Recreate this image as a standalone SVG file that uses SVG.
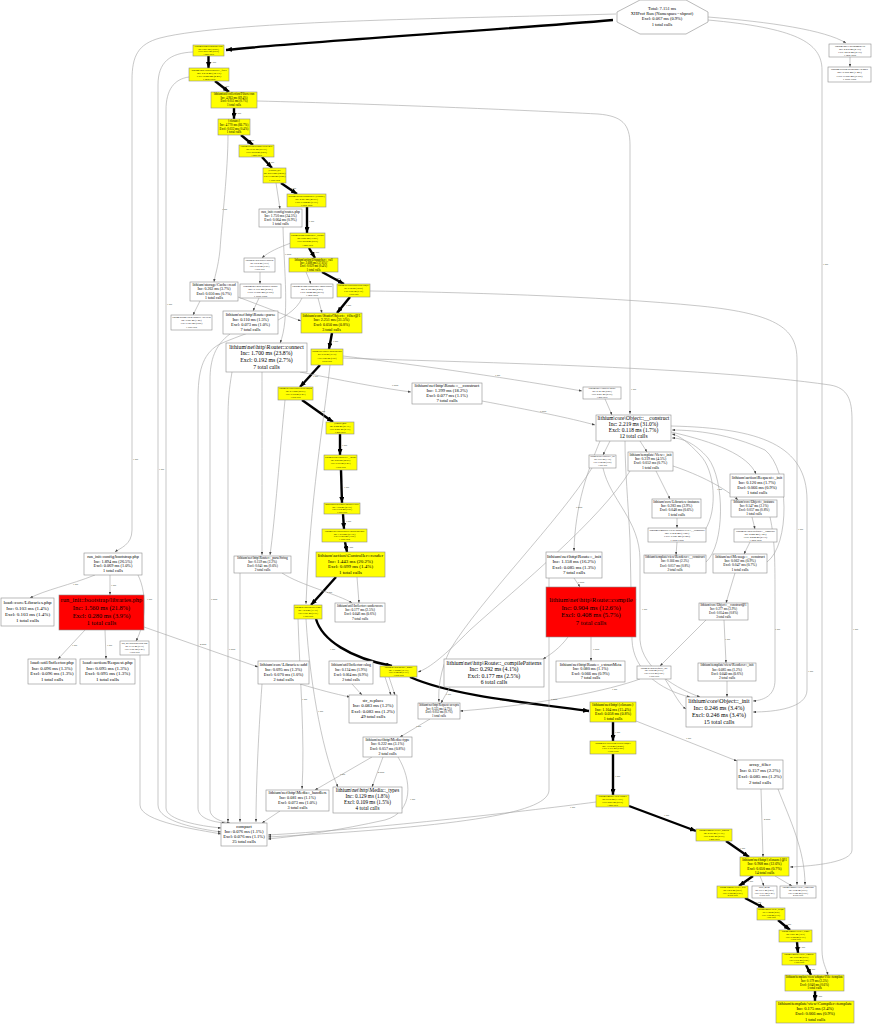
<svg xmlns="http://www.w3.org/2000/svg" width="872" height="1024" viewBox="0 0 872 1024">
<style>
text{font-family:"Liberation Serif","Times New Roman",serif;text-anchor:middle;fill:#000}
.n rect,.n polygon{stroke:#8c8c8c;stroke-width:0.6}
.y{fill:#ffff00}.w{fill:#fff}.r{fill:#ff0000}
.e{fill:none;stroke:#a3a3a3;stroke-width:0.6;marker-end:url(#ag)}
.t{fill:none;stroke:#000;stroke-width:2.4;marker-end:url(#ah)}
.el text{font-size:2.4px;text-anchor:start}
</style>
<defs>
<marker id="ah" markerWidth="6" markerHeight="5" refX="6" refY="2.5" orient="auto" markerUnits="userSpaceOnUse"><path d="M0,0 L6,2.5 L0,5 z" fill="#000"/></marker>
<marker id="ag" markerWidth="3" markerHeight="2.4" refX="3" refY="1.2" orient="auto" markerUnits="userSpaceOnUse"><path d="M0,0 L3,1.2 L0,2.4 z" fill="#444"/></marker>
</defs>
<rect width="872" height="1024" fill="#fff"/>
<g id="connectors">
<path class="t" d="M613,20 C500,30 300,42 226,50"/>
<path class="t" d="M208.5,56 L208.5,68"/>
<path class="t" d="M215,81 L229,92"/>
<path class="t" d="M234,108 L234,119"/>
<path class="t" d="M241,135 L253,145"/>
<path class="t" d="M262,157 L272,168"/>
<path class="t" d="M281,183 L297,194"/>
<path class="t" d="M307,207 L307,233"/>
<path class="t" d="M309,248 L315,258"/>
<path class="t" d="M322,272 L344,284"/>
<path class="t" d="M350,297 L337,313"/>
<path class="t" d="M332,333 L329,349"/>
<path class="t" d="M320,365 L300,387"/>
<path class="t" d="M302,400 L333,422"/>
<path class="t" d="M340,434 L340,455"/>
<path class="t" d="M341,470 L342,503"/>
<path class="t" d="M343,514 L344,529"/>
<path class="t" d="M345,542 L347,552"/>
<path class="t" d="M336,577 L311,605"/>
<path class="t" d="M316,619 C322,640 350,658 392,666"/>
<path class="t" d="M410,677 C450,695 520,702 589,711"/>
<path class="t" d="M613,722 L613,741"/>
<path class="t" d="M613,754 L613,795"/>
<path class="t" d="M629,806 L696,831"/>
<path class="t" d="M726,841 L749,857"/>
<path class="t" d="M753,876 L739,886"/>
<path class="t" d="M745,898 L764,908"/>
<path class="t" d="M778,920 L790,930"/>
<path class="t" d="M797,942 L798,953"/>
<path class="t" d="M806,965 L811,975"/>
<path class="t" d="M815,991 L815,1001"/>

<path class="e" d="M616,14 C480,18 230,20 160,38 C138,44 132,56 132,80 L132,530 C132,545 120,548 115,552"/>
<path class="e" d="M708,17 C770,22 825,30 846,43"/>
<path class="e" d="M708,20 C795,28 822,42 822,70 L822,950 C822,962 826,968 828,975"/>
<path class="e" d="M850,57 L850,67"/>
<path class="e" d="M193,52 C170,53 158,62 158,85 L158,805 C158,822 200,829 221,832"/>
<path class="e" d="M189,77 C174,79 166,90 166,110 L166,808 C166,820 200,826 221,828"/>
<path class="e" d="M228,135 C228,170 222,220 220,250 C218,268 215,275 214,282"/>
<path class="e" d="M257,101 C380,104 520,110 598,114 C622,116 630,124 630,145 L630,414"/>
<path class="e" d="M276,183 L280,209"/>
<path class="e" d="M283,227 C284,270 290,320 280,343"/>
<path class="e" d="M291,243 C280,247 268,252 262,258"/>
<path class="e" d="M260,272 L260,284"/>
<path class="e" d="M259,298 L253,311"/>
<path class="e" d="M306,272 L311,284"/>
<path class="e" d="M200,301 L193,315"/>
<path class="e" d="M238,297 C262,306 285,315 301,321"/>
<path class="e" d="M318,298 L322,313"/>
<path class="e" d="M302,298 C292,322 245,332 218,345 C202,355 198,372 198,400 L198,808 C198,818 212,822 225,823"/>
<path class="e" d="M230,334 C215,345 210,360 210,380 L210,810 C210,818 222,822 230,823"/>
<path class="e" d="M232,372 C229,390 228,400 228,420 L228,822"/>
<path class="e" d="M300,372 C340,380 380,388 411,392"/>
<path class="e" d="M262,372 C262,420 262,500 262,555"/>
<path class="e" d="M343,356 C420,365 520,380 582,391"/>
<path class="e" d="M343,358 C450,362 700,366 830,385 C848,388 852,400 852,420 L852,850 C852,862 815,866 790,867"/>
<path class="e" d="M370,291 C450,292 600,296 700,306 C780,314 797,330 797,360 L797,885"/>
<path class="e" d="M482,401 C530,410 570,418 595,425"/>
<path class="e" d="M605,399 L612,415"/>
<path class="e" d="M600,441 C588,470 575,505 574,551"/>
<path class="e" d="M610,441 L603,455"/>
<path class="e" d="M640,441 L647,452"/>
<path class="e" d="M671,432 C715,442 748,455 756,474"/>
<path class="e" d="M705,530 C718,510 715,470 700,455 C688,442 680,436 672,434"/>
<path class="e" d="M706,562 C725,545 725,480 708,458 C695,443 682,438 672,438"/>
<path class="e" d="M767,562 C790,545 790,470 765,450 C730,434 695,430 672,430"/>
<path class="e" d="M671,426 C760,428 807,445 807,500 L807,690 C807,708 775,712 753,712"/>
<path class="e" d="M770,517 C775,540 775,560 775,600 L775,680 C775,695 765,700 753,701"/>
<path class="e" d="M625,441 C625,470 628,500 630,540 L632,640 C633,670 660,690 690,697"/>
<path class="e" d="M603,468 C610,500 640,520 640,560 L640,640 C642,670 680,690 700,697"/>
<path class="e" d="M727,681 L727,697"/>
<path class="e" d="M724,620 L726,663"/>
<path class="e" d="M706,620 L660,666"/>
<path class="e" d="M735,573 L726,603"/>
<path class="e" d="M677,542 L676,555"/>
<path class="e" d="M656,471 L670,499"/>
<path class="e" d="M677,518 L677,528"/>
<path class="e" d="M752,517 L755,529"/>
<path class="e" d="M750,542 L744,554"/>
<path class="e" d="M673,466 C700,475 725,488 738,500"/>
<path class="e" d="M665,679 C675,695 680,705 686,709"/>
<path class="e" d="M592,468 C560,520 480,600 450,650 C440,670 438,690 439,702"/>
<path class="e" d="M630,471 C600,520 520,585 470,630 C445,655 430,668 418,672"/>
<path class="e" d="M574,578 L580,587"/>
<path class="e" d="M591,637 L591,661"/>
<path class="e" d="M568,637 C560,648 550,655 543,659"/>
<path class="e" d="M549,578 L549,790 C549,812 470,826 268,837"/>
<path class="e" d="M596,802 C520,812 360,830 268,835"/>
<path class="e" d="M450,687 L441,703"/>
<path class="e" d="M430,719 L400,737"/>
<path class="e" d="M372,757 L315,790"/>
<path class="e" d="M383,757 L372,787"/>
<path class="e" d="M398,757 C412,780 414,812 385,820 C340,830 300,836 268,839"/>
<path class="e" d="M280,811 L262,823"/>
<path class="e" d="M352,684 L362,695"/>
<path class="e" d="M300,684 C320,690 335,694 350,697"/>
<path class="e" d="M385,677 L391,695"/>
<path class="e" d="M389,677 L395,695"/>
<path class="e" d="M298,619 C300,680 305,740 302,789"/>
<path class="e" d="M306,619 C310,690 325,760 338,787"/>
<path class="e" d="M282,573 C300,585 340,595 352,603"/>
<path class="e" d="M240,573 L240,822"/>
<path class="e" d="M262,684 C258,740 256,790 256,822"/>
<path class="e" d="M140,655 L140,805 C140,822 200,830 221,834"/>
<path class="e" d="M95,575 C70,585 45,590 30,598"/>
<path class="e" d="M110,575 L110,595"/>
<path class="e" d="M138,575 C148,595 145,625 136,641"/>
<path class="e" d="M85,630 L58,659"/>
<path class="e" d="M105,630 L106,659"/>
<path class="e" d="M144,627 L258,667"/>
<path class="e" d="M285,400 C280,450 275,520 270,555"/>
<path class="e" d="M330,365 C324,420 310,500 306,604"/>
<path class="e" d="M357,577 L359,603"/>
<path class="e" d="M636,721 L737,761"/>
<path class="e" d="M761,789 L763,857"/>
<path class="e" d="M760,876 L764,886"/>
<path class="e" d="M775,876 L792,886"/>
<path class="e" d="M778,789 C790,820 805,850 805,885"/>
<path class="e" d="M640,679 C610,690 540,705 460,711"/>
</g>
<g class="el">
<text x="385" y="38">1 call</text>
<text x="211" y="63">1 call</text>
<text x="224" y="87">1 call</text>
<text x="236" y="114">1 call</text>
<text x="249" y="141">1 call</text>
<text x="269" y="163">1 call</text>
<text x="291" y="189">1 call</text>
<text x="309" y="222">1 call</text>
<text x="314" y="253">1 call</text>
<text x="335" y="279">1 call</text>
<text x="346" y="306">1 call</text>
<text x="333" y="342">1 call</text>
<text x="313" y="377">1 call</text>
<text x="320" y="412">1 call</text>
<text x="342" y="446">1 call</text>
<text x="344" y="488">1 call</text>
<text x="346" y="522">1 call</text>
<text x="348" y="548">1 call</text>
<text x="327" y="593">1 call</text>
<text x="330" y="650">1 call</text>
<text x="500" y="701">1 call</text>
<text x="615" y="733">1 call</text>
<text x="615" y="777">1 call</text>
<text x="664" y="816">1 call</text>
<text x="740" y="849">1 call</text>
<text x="748" y="882">1 call</text>
<text x="756" y="903">1 call</text>
<text x="786" y="925">1 call</text>
<text x="800" y="948">1 call</text>
<text x="810" y="970">1 call</text>
<text x="817" y="997">1 call</text>
<text x="133" y="460">1 call</text>
<text x="222" y="210">1 call</text>
<text x="631" y="390">1 call</text>
<text x="823" y="265">1 call</text>
<text x="853" y="630">1 call</text>
<text x="798" y="530">1 call</text>
<text x="285" y="255">7 calls</text>
<text x="576" y="508">7 calls</text>
<text x="578" y="583">7 calls</text>
<text x="593" y="650">7 calls</text>
<text x="392" y="386">7 calls</text>
<text x="540" y="412">7 calls</text>
<text x="495" y="376">1 call</text>
<text x="159" y="470">1 call</text>
<text x="167" y="305">1 call</text>
<text x="211" y="600">7 calls</text>
<text x="229" y="650">7 calls</text>
<text x="73" y="585">1 call</text>
<text x="111" y="586">1 call</text>
<text x="147" y="600">1 call</text>
<text x="72" y="646">1 call</text>
<text x="107" y="646">1 call</text>
<text x="200" y="645">2 calls</text>
<text x="340" y="775">1 call</text>
<text x="378" y="773">2 calls</text>
<text x="416" y="727">1 call</text>
<text x="446" y="695">1 call</text>
<text x="302" y="700">1 call</text>
<text x="318" y="712">1 call</text>
<text x="686" y="739">1 call</text>
<text x="764" y="820">2 calls</text>
<text x="551" y="700">7 calls</text>
<text x="570" y="808">1 call</text>
<text x="410" y="800">1 call</text>
<text x="631" y="600">1 call</text>
<text x="642" y="610">1 call</text>
<text x="717" y="490">1 call</text>
<text x="775" y="630">1 call</text>
<text x="808" y="672">1 call</text>
<text x="725" y="640">1 call</text>
<text x="612" y="690">1 call</text>
</g>
<g id="nodes">
<g id="root" class="n"><polygon class="w" points="640,0 686,0 708,12 708,22 686,34 640,34 617,22 617,12"/><text x="662" y="10.2" font-size="4.5"><tspan x="662">Total: 7.151 ms</tspan><tspan x="662" dy="5.1">XHProf Run (Namespace=xhprof)</tspan><tspan x="662" dy="5.1">Excl: 0.067 ms (0.9%)</tspan><tspan x="662" dy="5.1">1 total calls</tspan></text></g>
<g id="nA" class="n"><rect class="y" x="193" y="45" width="31" height="11"/><text x="208.5" y="47.1" font-size="2.3"><tspan x="208.5">lithium\action\Dispatcher::run</tspan><tspan x="208.5" dy="2.6">Inc: 5.061 ms (70.8%)</tspan><tspan x="208.5" dy="2.6">Excl: 0.037 ms (0.5%)</tspan><tspan x="208.5" dy="2.6">1 total calls</tspan></text></g>
<g id="nB" class="n"><rect class="y" x="189" y="68" width="40" height="13"/><text x="209" y="70.6" font-size="2.7"><tspan x="209">lithium\core\StaticObject::_filter</tspan><tspan x="209" dy="3">Inc: 5.012 ms (70.1%)</tspan><tspan x="209" dy="3">Excl: 0.028 ms (0.4%)</tspan><tspan x="209" dy="3">1 total calls</tspan></text></g>
<g id="nC" class="n"><rect class="y" x="211" y="92" width="46" height="16"/><text x="234" y="95.3" font-size="3"><tspan x="234">lithium\util\collection\Filters::run</tspan><tspan x="234" dy="3.5">Inc: 4.963 ms (69.4%)</tspan><tspan x="234" dy="3.5">Excl: 0.051 ms (0.7%)</tspan><tspan x="234" dy="3.5">1 total calls</tspan></text></g>
<g id="nD" class="n"><rect class="y" x="218" y="119" width="32" height="16"/><text x="234" y="122.3" font-size="3.2"><tspan x="234">{closure}</tspan><tspan x="234" dy="3.6">Inc: 4.770 ms (66.7%)</tspan><tspan x="234" dy="3.6">Excl: 0.032 ms (0.4%)</tspan><tspan x="234" dy="3.6">1 total calls</tspan></text></g>
<g id="nE" class="n"><rect class="y" x="239" y="145" width="35" height="12"/><text x="256.5" y="147.4" font-size="2.3"><tspan x="256.5">lithium\util\collection\Filters::next</tspan><tspan x="256.5" dy="2.7">Inc: 4.701 ms (65.7%)</tspan><tspan x="256.5" dy="2.7">Excl: 0.030 ms (0.4%)</tspan><tspan x="256.5" dy="2.7">1 total calls</tspan></text></g>
<g id="nF" class="n"><rect class="y" x="263" y="168" width="23" height="15"/><text x="274.5" y="170.8" font-size="2.4"><tspan x="274.5">{closure}@1</tspan><tspan x="274.5" dy="3.3">Inc: 4.615 ms (64.5%)</tspan><tspan x="274.5" dy="3.3">Excl: 0.026 ms (0.4%)</tspan><tspan x="274.5" dy="3.3">1 total calls</tspan></text></g>
<g id="nG" class="n"><rect class="y" x="287" y="194" width="39" height="13"/><text x="306.5" y="196.5" font-size="2.5"><tspan x="306.5">lithium\action\Dispatcher::{closure}</tspan><tspan x="306.5" dy="3">Inc: 2.861 ms (40.0%)</tspan><tspan x="306.5" dy="3">Excl: 0.024 ms (0.3%)</tspan><tspan x="306.5" dy="3">1 total calls</tspan></text></g>
<g id="nH" class="n"><rect class="w" x="259" y="209" width="43" height="18"/><text x="280.5" y="212.6" font-size="3.6"><tspan x="280.5">run_init::config/routes.php</tspan><tspan x="280.5" dy="4.1">Inc: 1.750 ms (24.5%)</tspan><tspan x="280.5" dy="4.1">Excl: 0.064 ms (0.9%)</tspan><tspan x="280.5" dy="4.1">1 total calls</tspan></text></g>
<g id="nI" class="n"><rect class="y" x="290" y="233" width="35" height="15"/><text x="307.5" y="235.7" font-size="2.3"><tspan x="307.5">lithium\action\Dispatcher::_callable</tspan><tspan x="307.5" dy="3.3">Inc: 2.803 ms (39.2%)</tspan><tspan x="307.5" dy="3.3">Excl: 0.034 ms (0.5%)</tspan><tspan x="307.5" dy="3.3">1 total calls</tspan></text></g>
<g id="nJ" class="n"><rect class="y" x="289" y="258" width="49" height="14"/><text x="313.5" y="260.7" font-size="3"><tspan x="313.5">lithium\action\Dispatcher::_call</tspan><tspan x="313.5" dy="3.3">Inc: 2.688 ms (37.6%)</tspan><tspan x="313.5" dy="3.3">Excl: 0.029 ms (0.4%)</tspan><tspan x="313.5" dy="3.3">1 total calls</tspan></text></g>
<g id="nK" class="n"><rect class="w" x="244" y="258" width="31" height="14"/><text x="259.5" y="260.7" font-size="2.2"><tspan x="259.5">lithium\net\http\Router::process</tspan><tspan x="259.5" dy="3">Inc: 0.214 ms (3.0%)</tspan><tspan x="259.5" dy="3">Excl: 0.038 ms (0.5%)</tspan><tspan x="259.5" dy="3">1 total calls</tspan></text></g>
<g id="nL" class="n"><rect class="y" x="337" y="284" width="33" height="13"/><text x="353.5" y="286.3" font-size="2.1"><tspan x="353.5">lithium\util\collection\Filters::run@1</tspan><tspan x="353.5" dy="2.9">Inc: 2.320 ms (32.4%)</tspan><tspan x="353.5" dy="2.9">Excl: 0.047 ms (0.7%)</tspan><tspan x="353.5" dy="2.9">1 total calls</tspan></text></g>
<g id="nM" class="n"><rect class="w" x="291" y="284" width="42" height="14"/><text x="312" y="286.8" font-size="2.6"><tspan x="312">lithium\action\Dispatcher::applyRules</tspan><tspan x="312" dy="3.1">Inc: 0.156 ms (2.2%)</tspan><tspan x="312" dy="3.1">Excl: 0.042 ms (0.6%)</tspan><tspan x="312" dy="3.1">1 total calls</tspan></text></g>
<g id="nN" class="n"><rect class="w" x="240" y="284" width="41" height="14"/><text x="260.5" y="286.9" font-size="2.9"><tspan x="260.5">lithium\net\http\Router::parse</tspan><tspan x="260.5" dy="3.2">Inc: 0.176 ms (2.5%)</tspan><tspan x="260.5" dy="3.2">Excl: 0.066 ms (0.9%)</tspan><tspan x="260.5" dy="3.2">1 total calls</tspan></text></g>
<g id="nO" class="n"><rect class="w" x="190" y="282" width="48" height="19"/><text x="214" y="285.7" font-size="3.9"><tspan x="214">lithium\storage\Cache::read</tspan><tspan x="214" dy="4.4">Inc: 0.263 ms (3.7%)</tspan><tspan x="214" dy="4.4">Excl: 0.050 ms (0.7%)</tspan><tspan x="214" dy="4.4">1 total calls</tspan></text></g>
<g id="nP" class="n"><rect class="w" x="171" y="315" width="41" height="15"/><text x="191.5" y="318.2" font-size="2.4"><tspan x="191.5">lithium\storage\cache\adapter\Apc::read</tspan><tspan x="191.5" dy="3.1">Inc: 0.087 ms (1.2%)</tspan><tspan x="191.5" dy="3.1">Excl: 0.057 ms (0.8%)</tspan><tspan x="191.5" dy="3.1">1 total calls</tspan></text></g>
<g id="nQ" class="n"><rect class="w" x="223" y="311" width="55" height="23"/><text x="250.5" y="315.5" font-size="4.3"><tspan x="250.5">lithium\net\http\Route::parse</tspan><tspan x="250.5" dy="5.2">Inc: 0.110 ms (1.5%)</tspan><tspan x="250.5" dy="5.2">Excl: 0.073 ms (1.0%)</tspan><tspan x="250.5" dy="5.2">7 total calls</tspan></text></g>
<g id="nR" class="n"><rect class="y" x="301" y="313" width="61" height="20"/><text x="331.5" y="316.7" font-size="4"><tspan x="331.5">lithium\core\StaticObject::_filter@1</tspan><tspan x="331.5" dy="4.7">Inc: 2.251 ms (31.5%)</tspan><tspan x="331.5" dy="4.7">Excl: 0.050 ms (0.8%)</tspan><tspan x="331.5" dy="4.7">3 total calls</tspan></text></g>
<g id="nS" class="n"><rect class="w" x="226" y="343" width="81" height="29"/><text x="266.5" y="348.6" font-size="5.8"><tspan x="266.5">lithium\net\http\Router::connect</tspan><tspan x="266.5" dy="6.7">Inc: 1.700 ms (23.8%)</tspan><tspan x="266.5" dy="6.7">Excl: 0.192 ms (2.7%)</tspan><tspan x="266.5" dy="6.7">7 total calls</tspan></text></g>
<g id="nT" class="n"><rect class="y" x="311" y="349" width="32" height="16"/><text x="327" y="351.6" font-size="2.1"><tspan x="327">lithium\core\Object::invokeMethod</tspan><tspan x="327" dy="3.5">Inc: 2.166 ms (30.3%)</tspan><tspan x="327" dy="3.5">Excl: 0.040 ms (0.6%)</tspan><tspan x="327" dy="3.5">2 total calls</tspan></text></g>
<g id="nU" class="n"><rect class="y" x="278" y="387" width="35" height="13"/><text x="295.5" y="389.4" font-size="2.2"><tspan x="295.5">lithium\util\collection\Filters::run@2</tspan><tspan x="295.5" dy="2.9">Inc: 2.112 ms (29.5%)</tspan><tspan x="295.5" dy="2.9">Excl: 0.032 ms (0.4%)</tspan><tspan x="295.5" dy="2.9">1 total calls</tspan></text></g>
<g id="nV" class="n"><rect class="w" x="412" y="383" width="70" height="21"/><text x="447" y="387.3" font-size="4.6"><tspan x="447">lithium\net\http\Route::__construct</tspan><tspan x="447" dy="4.9">Inc: 1.299 ms (18.2%)</tspan><tspan x="447" dy="4.9">Excl: 0.077 ms (1.1%)</tspan><tspan x="447" dy="4.9">7 total calls</tspan></text></g>
<g id="nW" class="n"><rect class="w" x="583" y="387" width="38" height="12"/><text x="602" y="389.4" font-size="2.3"><tspan x="602">lithium\core\Libraries::locate</tspan><tspan x="602" dy="2.7">Inc: 0.143 ms (2.0%)</tspan><tspan x="602" dy="2.7">Excl: 0.061 ms (0.9%)</tspan><tspan x="602" dy="2.7">1 total calls</tspan></text></g>
<g id="nX" class="n"><rect class="y" x="326" y="422" width="28" height="12"/><text x="340" y="424.4" font-size="2.3"><tspan x="340">{closure}@2</tspan><tspan x="340" dy="2.7">Inc: 2.080 ms (29.1%)</tspan><tspan x="340" dy="2.7">Excl: 0.021 ms (0.3%)</tspan><tspan x="340" dy="2.7">1 total calls</tspan></text></g>
<g id="nY" class="n"><rect class="y" x="324" y="455" width="33" height="15"/><text x="340.5" y="457.6" font-size="2.2"><tspan x="340.5">lithium\action\Controller::__invoke</tspan><tspan x="340.5" dy="3.3">Inc: 2.059 ms (28.8%)</tspan><tspan x="340.5" dy="3.3">Excl: 0.030 ms (0.4%)</tspan><tspan x="340.5" dy="3.3">1 total calls</tspan></text></g>
<g id="nZ" class="n"><rect class="w" x="596" y="415" width="75" height="26"/><text x="633.5" y="420.1" font-size="5.5"><tspan x="633.5">lithium\core\Object::__construct</tspan><tspan x="633.5" dy="6.1">Inc: 2.219 ms (31.0%)</tspan><tspan x="633.5" dy="6.1">Excl: 0.118 ms (1.7%)</tspan><tspan x="633.5" dy="6.1">12 total calls</tspan></text></g>
<g id="nAA" class="n"><rect class="y" x="324" y="503" width="36" height="11"/><text x="342" y="505" font-size="2.2"><tspan x="342">app\controllers\PagesController::view</tspan><tspan x="342" dy="2.6">Inc: 1.998 ms (27.9%)</tspan><tspan x="342" dy="2.6">Excl: 0.014 ms (0.2%)</tspan><tspan x="342" dy="2.6">1 total calls</tspan></text></g>
<g id="nAB" class="n"><rect class="y" x="322" y="529" width="45" height="13"/><text x="344.5" y="531.6" font-size="2.4"><tspan x="344.5">lithium\core\StaticObject::invokeMethod</tspan><tspan x="344.5" dy="2.9">Inc: 1.512 ms (21.1%)</tspan><tspan x="344.5" dy="2.9">Excl: 0.069 ms (1.0%)</tspan><tspan x="344.5" dy="2.9">1 total calls</tspan></text></g>
<g id="nAC" class="n"><rect class="y" x="316" y="552" width="69" height="25"/><text x="350.5" y="557.2" font-size="5"><tspan x="350.5">lithium\action\Controller::render</tspan><tspan x="350.5" dy="5.6">Inc: 1.443 ms (20.2%)</tspan><tspan x="350.5" dy="5.6">Excl: 0.099 ms (1.4%)</tspan><tspan x="350.5" dy="5.6">1 total calls</tspan></text></g>
<g id="nAD" class="n"><rect class="w" x="234" y="556" width="57" height="17"/><text x="262.5" y="559.4" font-size="3.4"><tspan x="262.5">lithium\net\http\Router::_parseString</tspan><tspan x="262.5" dy="3.9">Inc: 0.159 ms (2.2%)</tspan><tspan x="262.5" dy="3.9">Excl: 0.041 ms (0.6%)</tspan><tspan x="262.5" dy="3.9">2 total calls</tspan></text></g>
<g id="nAE" class="n"><rect class="y" x="294" y="605" width="28" height="14"/><text x="308" y="607.5" font-size="2.2"><tspan x="308">lithium\net\http\Media::render</tspan><tspan x="308" dy="3.1">Inc: 1.238 ms (17.3%)</tspan><tspan x="308" dy="3.1">Excl: 0.067 ms (0.9%)</tspan><tspan x="308" dy="3.1">1 total calls</tspan></text></g>
<g id="nAF" class="n"><rect class="w" x="335" y="603" width="50" height="19"/><text x="360" y="606.6" font-size="3.5"><tspan x="360">lithium\util\Inflector::underscore</tspan><tspan x="360" dy="4.3">Inc: 0.177 ms (2.5%)</tspan><tspan x="360" dy="4.3">Excl: 0.046 ms (0.6%)</tspan><tspan x="360" dy="4.3">7 total calls</tspan></text></g>
<g id="nAG" class="n"><rect class="w" x="258" y="661" width="51" height="23"/><text x="283.5" y="665.9" font-size="4.4"><tspan x="283.5">lithium\core\Libraries::add</tspan><tspan x="283.5" dy="5">Inc: 0.095 ms (1.3%)</tspan><tspan x="283.5" dy="5">Excl: 0.070 ms (1.0%)</tspan><tspan x="283.5" dy="5">2 total calls</tspan></text></g>
<g id="nAH" class="n"><rect class="w" x="329" y="661" width="44" height="23"/><text x="351" y="665.5" font-size="3.8"><tspan x="351">lithium\util\Inflector::slug</tspan><tspan x="351" dy="5">Inc: 0.134 ms (1.9%)</tspan><tspan x="351" dy="5">Excl: 0.064 ms (0.9%)</tspan><tspan x="351" dy="5">2 total calls</tspan></text></g>
<g id="nAI" class="n"><rect class="y" x="380" y="666" width="37" height="11"/><text x="398.5" y="668" font-size="2.2"><tspan x="398.5">lithium\net\http\Media::_handle</tspan><tspan x="398.5" dy="2.6">Inc: 1.152 ms (16.1%)</tspan><tspan x="398.5" dy="2.6">Excl: 0.048 ms (0.7%)</tspan><tspan x="398.5" dy="2.6">1 total calls</tspan></text></g>
<g id="nAJ" class="n"><rect class="w" x="444" y="659" width="100" height="28"/><text x="494" y="664.9" font-size="5.8"><tspan x="494">lithium\net\http\Route::_compilePatterns</tspan><tspan x="494" dy="6.3">Inc: 0.292 ms (4.1%)</tspan><tspan x="494" dy="6.3">Excl: 0.177 ms (2.5%)</tspan><tspan x="494" dy="6.3">6 total calls</tspan></text></g>
<g id="nCfg" class="n"><rect class="w" x="84" y="553" width="58" height="22"/><text x="113" y="557.6" font-size="4.3"><tspan x="113">run_init::config/bootstrap.php</tspan><tspan x="113" dy="4.9">Inc: 1.894 ms (26.5%)</tspan><tspan x="113" dy="4.9">Excl: 0.069 ms (1.0%)</tspan><tspan x="113" dy="4.9">1 total calls</tspan></text></g>
<g id="nRed1" class="n"><rect class="r" x="59" y="595" width="85" height="35"/><text x="101.5" y="602.3" font-size="6.4"><tspan x="101.5">run_init::bootstrap/libraries.php</tspan><tspan x="101.5" dy="7.6">Inc: 1.560 ms (21.8%)</tspan><tspan x="101.5" dy="7.6">Excl: 0.280 ms (3.9%)</tspan><tspan x="101.5" dy="7.6">1 total calls</tspan></text></g>
<g id="nLoadLib" class="n"><rect class="w" x="1" y="598" width="53" height="28"/><text x="27.5" y="603.9" font-size="5"><tspan x="27.5">load::core/Libraries.php</tspan><tspan x="27.5" dy="6">Inc: 0.103 ms (1.4%)</tspan><tspan x="27.5" dy="6">Excl: 0.103 ms (1.4%)</tspan><tspan x="27.5" dy="6">1 total calls</tspan></text></g>
<g id="nLoadInf" class="n"><rect class="w" x="28" y="659" width="48" height="25"/><text x="52" y="664.4" font-size="4.8"><tspan x="52">load::util/Inflector.php</tspan><tspan x="52" dy="5.5">Inc: 0.096 ms (1.3%)</tspan><tspan x="52" dy="5.5">Excl: 0.096 ms (1.3%)</tspan><tspan x="52" dy="5.5">1 total calls</tspan></text></g>
<g id="nLoadReq" class="n"><rect class="w" x="80" y="659" width="55" height="25"/><text x="107.5" y="664.4" font-size="5"><tspan x="107.5">load::action/Request.php</tspan><tspan x="107.5" dy="5.5">Inc: 0.095 ms (1.3%)</tspan><tspan x="107.5" dy="5.5">Excl: 0.095 ms (1.3%)</tspan><tspan x="107.5" dy="5.5">1 total calls</tspan></text></g>
<g id="nCache" class="n"><rect class="w" x="120" y="641" width="29" height="14"/><text x="134.5" y="643.7" font-size="2.2"><tspan x="134.5">run_init::bootstrap/cache.php</tspan><tspan x="134.5" dy="3">Inc: 0.379 ms (5.3%)</tspan><tspan x="134.5" dy="3">Excl: 0.027 ms (0.4%)</tspan><tspan x="134.5" dy="3">1 total calls</tspan></text></g>
<g id="nRed2" class="n"><rect class="r" x="546" y="587" width="90" height="50"/><text x="591" y="602.1" font-size="6.6"><tspan x="591">lithium\net\http\Route::compile</tspan><tspan x="591" dy="7.5">Inc: 0.904 ms (12.6%)</tspan><tspan x="591" dy="7.5">Excl: 0.408 ms (5.7%)</tspan><tspan x="591" dy="7.5">7 total calls</tspan></text></g>
<g id="nRouteInit" class="n"><rect class="w" x="546" y="552" width="56" height="26"/><text x="574" y="557.7" font-size="4.8"><tspan x="574">lithium\net\http\Route::_init</tspan><tspan x="574" dy="5.5">Inc: 1.158 ms (16.2%)</tspan><tspan x="574" dy="5.5">Excl: 0.085 ms (1.3%)</tspan><tspan x="574" dy="5.5">7 total calls</tspan></text></g>
<g id="nExtract" class="n"><rect class="w" x="556" y="661" width="69" height="21"/><text x="590.5" y="665.6" font-size="4.2"><tspan x="590.5">lithium\net\http\Route::_extractMeta</tspan><tspan x="590.5" dy="4.6">Inc: 0.080 ms (1.1%)</tspan><tspan x="590.5" dy="4.6">Excl: 0.066 ms (0.9%)</tspan><tspan x="590.5" dy="4.6">7 total calls</tspan></text></g>
<g id="nReqSmall" class="n"><rect class="w" x="637" y="666" width="34" height="13"/><text x="654" y="668.6" font-size="2.2"><tspan x="654">lithium\net\http\Request::_init</tspan><tspan x="654" dy="2.8">Inc: 0.068 ms (0.9%)</tspan><tspan x="654" dy="2.8">Excl: 0.030 ms (0.4%)</tspan><tspan x="654" dy="2.8">1 total calls</tspan></text></g>
<g id="nObjInit" class="n"><rect class="w" x="686" y="697" width="66" height="30"/><text x="719" y="702.7" font-size="6"><tspan x="719">lithium\core\Object::_init</tspan><tspan x="719" dy="7">Inc: 0.246 ms (3.4%)</tspan><tspan x="719" dy="7">Excl: 0.246 ms (3.4%)</tspan><tspan x="719" dy="7">15 total calls</tspan></text></g>
<g id="nClosureY" class="n"><rect class="y" x="590" y="702" width="46" height="20"/><text x="613" y="706.3" font-size="4"><tspan x="613">lithium\net\http\{closure}</tspan><tspan x="613" dy="4.4">Inc: 1.104 ms (15.4%)</tspan><tspan x="613" dy="4.4">Excl: 0.058 ms (0.8%)</tspan><tspan x="613" dy="4.4">1 total calls</tspan></text></g>
<g id="nYS" class="n"><rect class="y" x="590" y="741" width="46" height="13"/><text x="613" y="743.6" font-size="2.4"><tspan x="613">lithium\util\collection\Filters::run@3</tspan><tspan x="613" dy="2.9">Inc: 1.015 ms (14.2%)</tspan><tspan x="613" dy="2.9">Excl: 0.037 ms (0.5%)</tspan><tspan x="613" dy="2.9">1 total calls</tspan></text></g>
<g id="nArr" class="n"><rect class="w" x="737" y="760" width="46" height="29"/><text x="760" y="765.8" font-size="4.8"><tspan x="760">array_filter</tspan><tspan x="760" dy="6.2">Inc: 0.157 ms (2.2%)</tspan><tspan x="760" dy="6.2">Excl: 0.085 ms (1.2%)</tspan><tspan x="760" dy="6.2">2 total calls</tspan></text></g>
<g id="nParents" class="n"><rect class="w" x="699" y="603" width="49" height="17"/><text x="723.5" y="606.4" font-size="3.2"><tspan x="723.5">lithium\core\Object::__construct@1</tspan><tspan x="723.5" dy="3.8">Inc: 0.277 ms (3.9%)</tspan><tspan x="723.5" dy="3.8">Excl: 0.054 ms (0.8%)</tspan><tspan x="723.5" dy="3.8">3 total calls</tspan></text></g>
<g id="nRendInit" class="n"><rect class="w" x="698" y="663" width="58" height="18"/><text x="727" y="666.3" font-size="3.5"><tspan x="727">lithium\template\view\Renderer::_init</tspan><tspan x="727" dy="4.2">Inc: 0.085 ms (1.2%)</tspan><tspan x="727" dy="4.2">Excl: 0.040 ms (0.6%)</tspan><tspan x="727" dy="4.2">2 total calls</tspan></text></g>
<g id="nViewInit" class="n"><rect class="w" x="628" y="452" width="45" height="19"/><text x="650.5" y="455.6" font-size="3.7"><tspan x="650.5">lithium\template\View::_init</tspan><tspan x="650.5" dy="4.4">Inc: 0.319 ms (4.5%)</tspan><tspan x="650.5" dy="4.4">Excl: 0.052 ms (0.7%)</tspan><tspan x="650.5" dy="4.4">1 total calls</tspan></text></g>
<g id="nReqInit2" class="n"><rect class="w" x="730" y="474" width="54" height="23"/><text x="757" y="478.5" font-size="4.4"><tspan x="757">lithium\action\Request::_init</tspan><tspan x="757" dy="5.2">Inc: 0.120 ms (1.7%)</tspan><tspan x="757" dy="5.2">Excl: 0.066 ms (0.9%)</tspan><tspan x="757" dy="5.2">1 total calls</tspan></text></g>
<g id="nLibInst" class="n"><rect class="w" x="652" y="499" width="49" height="19"/><text x="676.5" y="502.6" font-size="3.7"><tspan x="676.5">lithium\core\Libraries::instance</tspan><tspan x="676.5" dy="4.4">Inc: 0.283 ms (3.9%)</tspan><tspan x="676.5" dy="4.4">Excl: 0.048 ms (0.6%)</tspan><tspan x="676.5" dy="4.4">1 total calls</tspan></text></g>
<g id="nObjInst" class="n"><rect class="w" x="731" y="500" width="46" height="17"/><text x="754" y="503.2" font-size="3.4"><tspan x="754">lithium\core\Object::_instance</tspan><tspan x="754" dy="4">Inc: 0.147 ms (2.1%)</tspan><tspan x="754" dy="4">Excl: 0.057 ms (0.8%)</tspan><tspan x="754" dy="4">1 total calls</tspan></text></g>
<g id="nFileCons" class="n"><rect class="w" x="648" y="528" width="58" height="14"/><text x="677" y="530.7" font-size="2.9"><tspan x="677">lithium\template\view\adapter\File::__construct</tspan><tspan x="677" dy="3.3">Inc: 0.274 ms (3.8%)</tspan><tspan x="677" dy="3.3">Excl: 0.027 ms (0.4%)</tspan><tspan x="677" dy="3.3">1 total calls</tspan></text></g>
<g id="nReqCons" class="n"><rect class="w" x="734" y="529" width="43" height="13"/><text x="755.5" y="531.5" font-size="2.6"><tspan x="755.5">lithium\net\http\Request::__construct</tspan><tspan x="755.5" dy="3">Inc: 0.098 ms (1.4%)</tspan><tspan x="755.5" dy="3">Excl: 0.024 ms (0.3%)</tspan><tspan x="755.5" dy="3">1 total calls</tspan></text></g>
<g id="nRendCons" class="n"><rect class="w" x="644" y="555" width="62" height="18"/><text x="675" y="558.2" font-size="3.3"><tspan x="675">lithium\template\view\Renderer::__construct</tspan><tspan x="675" dy="4.2">Inc: 0.166 ms (2.3%)</tspan><tspan x="675" dy="4.2">Excl: 0.057 ms (0.8%)</tspan><tspan x="675" dy="4.2">2 total calls</tspan></text></g>
<g id="nMsgCons" class="n"><rect class="w" x="713" y="554" width="54" height="19"/><text x="740" y="557.6" font-size="3.7"><tspan x="740">lithium\net\Message::__construct</tspan><tspan x="740" dy="4.4">Inc: 0.062 ms (0.9%)</tspan><tspan x="740" dy="4.4">Excl: 0.047 ms (0.7%)</tspan><tspan x="740" dy="4.4">1 total calls</tspan></text></g>
<g id="nCtrlInit" class="n"><rect class="w" x="589" y="455" width="27" height="13"/><text x="602.5" y="457.1" font-size="2"><tspan x="602.5">lithium\action\Controller::_init</tspan><tspan x="602.5" dy="3">Inc: 0.093 ms (1.3%)</tspan><tspan x="602.5" dy="3">Excl: 0.045 ms (0.6%)</tspan><tspan x="602.5" dy="3">1 total calls</tspan></text></g>
<g id="nStr" class="n"><rect class="w" x="349" y="695" width="48" height="28"/><text x="373" y="701.5" font-size="4.8"><tspan x="373">str_replace</tspan><tspan x="373" dy="5.6">Inc: 0.083 ms (1.2%)</tspan><tspan x="373" dy="5.6">Excl: 0.083 ms (1.2%)</tspan><tspan x="373" dy="5.6">49 total calls</tspan></text></g>
<g id="nAccepts" class="n"><rect class="w" x="418" y="703" width="42" height="16"/><text x="439" y="706.1" font-size="3"><tspan x="439">lithium\net\http\Request::accepts</tspan><tspan x="439" dy="3.6">Inc: 0.335 ms (4.7%)</tspan><tspan x="439" dy="3.6">Excl: 0.052 ms (0.7%)</tspan><tspan x="439" dy="3.6">1 total calls</tspan></text></g>
<g id="nMType" class="n"><rect class="w" x="363" y="737" width="49" height="20"/><text x="387.5" y="740.8" font-size="3.9"><tspan x="387.5">lithium\net\http\Media::type</tspan><tspan x="387.5" dy="4.6">Inc: 0.222 ms (3.1%)</tspan><tspan x="387.5" dy="4.6">Excl: 0.057 ms (0.8%)</tspan><tspan x="387.5" dy="4.6">2 total calls</tspan></text></g>
<g id="nMHand" class="n"><rect class="w" x="266" y="790" width="63" height="21"/><text x="297.5" y="794.1" font-size="4.3"><tspan x="297.5">lithium\net\http\Media::_handlers</tspan><tspan x="297.5" dy="4.9">Inc: 0.081 ms (1.1%)</tspan><tspan x="297.5" dy="4.9">Excl: 0.073 ms (1.0%)</tspan><tspan x="297.5" dy="4.9">3 total calls</tspan></text></g>
<g id="nMTypes" class="n"><rect class="w" x="333" y="787" width="69" height="26"/><text x="367.5" y="791.9" font-size="5.2"><tspan x="367.5">lithium\net\http\Media::_types</tspan><tspan x="367.5" dy="6.1">Inc: 0.129 ms (1.8%)</tspan><tspan x="367.5" dy="6.1">Excl: 0.109 ms (1.5%)</tspan><tspan x="367.5" dy="6.1">4 total calls</tspan></text></g>
<g id="nCompact" class="n"><rect class="w" x="221" y="823" width="46" height="23"/><text x="244" y="827.5" font-size="4.6"><tspan x="244">compact</tspan><tspan x="244" dy="5.3">Inc: 0.076 ms (1.1%)</tspan><tspan x="244" dy="5.3">Excl: 0.076 ms (1.1%)</tspan><tspan x="244" dy="5.3">25 total calls</tspan></text></g>
<g id="nY1" class="n"><rect class="y" x="596" y="795" width="33" height="12"/><text x="612.5" y="797.4" font-size="2.3"><tspan x="612.5">lithium\template\View::render</tspan><tspan x="612.5" dy="2.7">Inc: 0.995 ms (13.9%)</tspan><tspan x="612.5" dy="2.7">Excl: 0.063 ms (0.9%)</tspan><tspan x="612.5" dy="2.7">1 total calls</tspan></text></g>
<g id="nY2" class="n"><rect class="y" x="696" y="829" width="36" height="12"/><text x="714" y="831.4" font-size="2.3"><tspan x="714">lithium\template\View::_process</tspan><tspan x="714" dy="2.7">Inc: 0.951 ms (13.3%)</tspan><tspan x="714" dy="2.7">Excl: 0.043 ms (0.6%)</tspan><tspan x="714" dy="2.7">1 total calls</tspan></text></g>
<g id="nY3" class="n"><rect class="y" x="740" y="857" width="49" height="19"/><text x="764.5" y="860.7" font-size="3.8"><tspan x="764.5">lithium\net\http\{closure}@1</tspan><tspan x="764.5" dy="4.4">Inc: 0.908 ms (12.6%)</tspan><tspan x="764.5" dy="4.4">Excl: 0.050 ms (0.7%)</tspan><tspan x="764.5" dy="4.4">14 total calls</tspan></text></g>
<g id="nY4" class="n"><rect class="y" x="717" y="886" width="31" height="12"/><text x="732.5" y="888.3" font-size="2.2"><tspan x="732.5">lithium\template\View::_step</tspan><tspan x="732.5" dy="2.7">Inc: 0.412 ms (5.8%)</tspan><tspan x="732.5" dy="2.7">Excl: 0.058 ms (0.8%)</tspan><tspan x="732.5" dy="2.7">4 total calls</tspan></text></g>
<g id="nW5" class="n"><rect class="w" x="752" y="886" width="25" height="12"/><text x="764.5" y="888.3" font-size="2.2"><tspan x="764.5">array_merge</tspan><tspan x="764.5" dy="2.7">Inc: 0.031 ms (0.4%)</tspan><tspan x="764.5" dy="2.7">Excl: 0.031 ms (0.4%)</tspan><tspan x="764.5" dy="2.7">9 total calls</tspan></text></g>
<g id="nW6" class="n"><rect class="w" x="780" y="886" width="36" height="12"/><text x="798" y="888.3" font-size="2.2"><tspan x="798">lithium\template\View::_conditions</tspan><tspan x="798" dy="2.7">Inc: 0.046 ms (0.6%)</tspan><tspan x="798" dy="2.7">Excl: 0.046 ms (0.6%)</tspan><tspan x="798" dy="2.7">4 total calls</tspan></text></g>
<g id="nY7" class="n"><rect class="y" x="757" y="908" width="28" height="12"/><text x="771" y="910.2" font-size="2"><tspan x="771">lithium\template\View::_step@1</tspan><tspan x="771" dy="2.7">Inc: 0.322 ms (4.5%)</tspan><tspan x="771" dy="2.7">Excl: 0.049 ms (0.7%)</tspan><tspan x="771" dy="2.7">1 total calls</tspan></text></g>
<g id="nY8" class="n"><rect class="y" x="779" y="930" width="33" height="12"/><text x="795.5" y="932.3" font-size="2.2"><tspan x="795.5">lithium\template\View::_render</tspan><tspan x="795.5" dy="2.7">Inc: 0.261 ms (3.6%)</tspan><tspan x="795.5" dy="2.7">Excl: 0.052 ms (0.7%)</tspan><tspan x="795.5" dy="2.7">1 total calls</tspan></text></g>
<g id="nY9" class="n"><rect class="y" x="782" y="953" width="34" height="12"/><text x="799" y="955.3" font-size="2.2"><tspan x="799">lithium\template\View::_template</tspan><tspan x="799" dy="2.7">Inc: 0.209 ms (2.9%)</tspan><tspan x="799" dy="2.7">Excl: 0.030 ms (0.4%)</tspan><tspan x="799" dy="2.7">1 total calls</tspan></text></g>
<g id="nFileT" class="n"><rect class="y" x="785" y="975" width="59" height="16"/><text x="814.5" y="978.1" font-size="3.2"><tspan x="814.5">lithium\template\view\adapter\File::template</tspan><tspan x="814.5" dy="3.7">Inc: 0.179 ms (2.5%)</tspan><tspan x="814.5" dy="3.7">Excl: 0.040 ms (0.6%)</tspan><tspan x="814.5" dy="3.7">1 total calls</tspan></text></g>
<g id="nComp" class="n"><rect class="y" x="776" y="1001" width="78" height="22"/><text x="815" y="1005" font-size="4.4"><tspan x="815">lithium\template\view\Compiler::template</tspan><tspan x="815" dy="5.2">Inc: 0.175 ms (2.4%)</tspan><tspan x="815" dy="5.2">Excl: 0.066 ms (0.9%)</tspan><tspan x="815" dy="5.2">1 total calls</tspan></text></g>
<g id="nTR1" class="n"><rect class="w" x="829" y="44" width="42" height="13"/><text x="850" y="46.5" font-size="2.6"><tspan x="850">lithium\core\Environment::is</tspan><tspan x="850" dy="3">Inc: 0.019 ms (0.3%)</tspan><tspan x="850" dy="3">Excl: 0.019 ms (0.3%)</tspan><tspan x="850" dy="3">1 total calls</tspan></text></g>
<g id="nTR2" class="n"><rect class="w" x="828" y="67" width="43" height="15"/><text x="849.5" y="70" font-size="2.9"><tspan x="849.5">lithium\action\Response::render</tspan><tspan x="849.5" dy="3.4">Inc: 0.098 ms (1.4%)</tspan><tspan x="849.5" dy="3.4">Excl: 0.065 ms (0.9%)</tspan><tspan x="849.5" dy="3.4">1 total calls</tspan></text></g>
</g>
</svg>
